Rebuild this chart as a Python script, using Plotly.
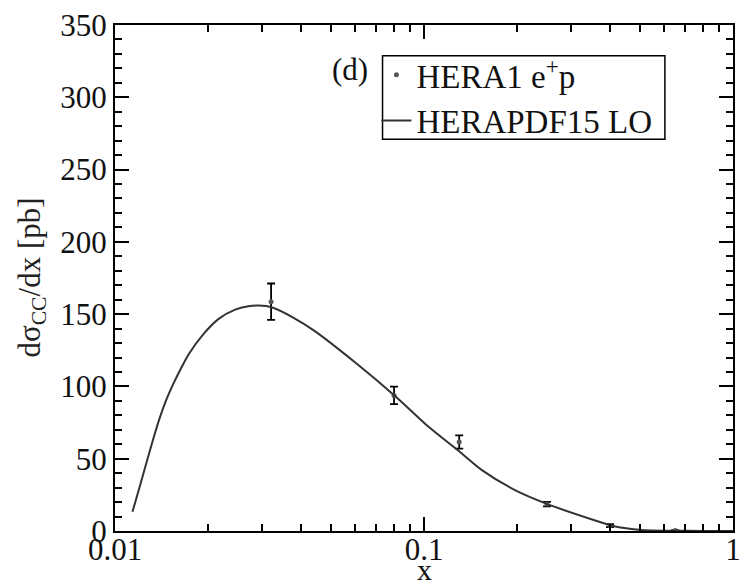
import plotly.graph_objects as go

# Data points (HERA1 e+p)
data_x = [0.032, 0.08, 0.13, 0.25, 0.40, 0.65]
data_y = [158.6, 93.8, 61.6, 18.6, 3.7, 0.3]
data_err = [12.6, 6.0, 4.6, 1.5, 1.0, 0.3]

# Theory curve (HERAPDF15 LO)
curve_x = [0.01139, 0.01202, 0.01262, 0.01326, 0.01393, 0.01463, 0.01536, 0.01633,
           0.01736, 0.01915, 0.02165, 0.02448, 0.027, 0.02907, 0.0323, 0.0376,
           0.0441, 0.0606, 0.0814, 0.1037, 0.131, 0.154, 0.197, 0.251, 0.354,
           0.406, 0.506, 0.65, 0.8, 1.0]
curve_y = [13.3, 30.6, 46.7, 62.8, 77.7, 90.3, 100.7, 112.2,
           122.6, 135.2, 146.7, 153.1, 155.4, 155.9, 154.6, 147.8,
           138.6, 115.7, 92.6, 71.9, 54.5, 42.1, 28.3, 18.6, 7.6,
           3.7, 0.7, 0.2, 0.05, 0.0]

y_ticks = [0, 50, 100, 150, 200, 250, 300, 350]
x_ticks = [0.01, 0.1, 1]
x_tick_labels = ["0.01", "0.1", "1"]
x_minor_ticks = [0.02, 0.03, 0.04, 0.05, 0.06, 0.07, 0.08, 0.09,
                 0.2, 0.3, 0.4, 0.5, 0.6, 0.7, 0.8, 0.9]

FONT = "Liberation Serif"

fig = go.Figure()
fig.add_trace(go.Scatter(
    x=data_x, y=data_y, mode="markers", name="HERA1 e<sup>+</sup>p",
    marker=dict(size=5, color="#555555", symbol="circle"),
    error_y=dict(type="data", array=data_err, visible=True, color="black",
                 thickness=1.8, width=4),
))
fig.add_trace(go.Scatter(
    x=curve_x, y=curve_y, mode="lines", name="HERAPDF15 LO",
    line=dict(color="#333333", width=2, shape="spline", smoothing=0.8),
))

fig.update_layout(
    width=749, height=586,
    margin=dict(l=115, r=8, t=22, b=55),
    paper_bgcolor="white", plot_bgcolor="white",
    font=dict(family=FONT, size=31, color="#111111"),
    showlegend=True,
    legend=dict(
        x=0.423, y=0.957, xanchor="left", yanchor="top",
        bgcolor="rgba(0,0,0,0)", borderwidth=0,
        font=dict(family=FONT, size=33, color="#111111"),
        tracegroupgap=0, itemwidth=30,
    ),
    shapes=[
        dict(type="rect", xref="paper", yref="paper",
             x0=0.4329, x1=0.8898, y0=0.774, y1=0.939,
             line=dict(color="black", width=1.5), fillcolor="rgba(0,0,0,0)",
             layer="above"),
    ],
    xaxis=dict(
        type="log", range=[-2, 0],
        tickvals=x_ticks, ticktext=x_tick_labels,
        ticks="inside", ticklen=14, tickwidth=1.8, tickcolor="black",
        showline=True, linewidth=2, linecolor="black", mirror="ticks",
        showgrid=False, zeroline=False, ticklabelstandoff=-10,
        minor=dict(tickvals=x_minor_ticks, ticks="inside", ticklen=7,
                   tickwidth=1.5, tickcolor="black", showgrid=False),
        tickfont=dict(family=FONT, size=31, color="#111111"),
    ),
    yaxis=dict(
        range=[0, 350], tickvals=y_ticks,
        ticks="inside", ticklen=14, tickwidth=1.8, tickcolor="black",
        showline=True, linewidth=2, linecolor="black", mirror="ticks",
        showgrid=False, zeroline=False,
        minor=dict(ticks="inside", ticklen=7, tickwidth=1.5, tickcolor="black",
                   dtick=10, showgrid=False),
        tickfont=dict(family=FONT, size=31, color="#111111"),
    ),
    annotations=[
        dict(text="dσ<sub>CC</sub>/dx [pb]", textangle=-90,
             xref="paper", yref="paper", x=-0.135, y=0.5,
             xanchor="center", yanchor="middle", showarrow=False,
             font=dict(family=FONT, size=31, color="#222222")),
        dict(text="x", xref="paper", yref="paper", x=0.5, y=-0.076,
             xanchor="center", yanchor="middle", showarrow=False,
             font=dict(family=FONT, size=30, color="#111111")),
        dict(text="(d)", xref="paper", yref="paper", x=0.381, y=0.913,
             xanchor="center", yanchor="middle", showarrow=False,
             font=dict(family=FONT, size=31, color="#111111")),
    ],
)

fig.write_html("out.html")
